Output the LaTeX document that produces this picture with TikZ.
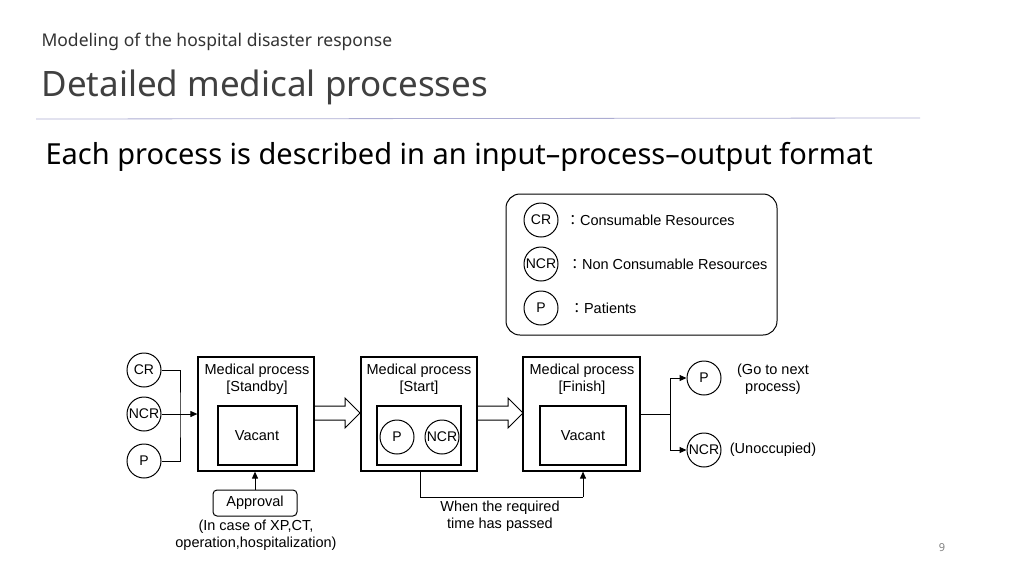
\documentclass[tikz,border=0pt]{standalone}
\usepackage{fontspec}
\setmainfont{Liberation Sans}
\newfontfamily\ttlfont{Noto Sans}
\newfontfamily\cjk{Noto Sans CJK JP}
\usetikzlibrary{arrows.meta}
\begin{document}
\begin{tikzpicture}[x=1pt,y=-1pt,
  circ/.style={draw,line width=1pt,circle,minimum size=34pt,inner sep=0pt,font=\fontsize{14}{15}\selectfont},
  box/.style={draw,line width=1.2pt,inner sep=0pt},
  lab/.style={font=\fontsize{14.5}{17}\selectfont,align=center},
  ln/.style={draw,line width=1pt},
  arr/.style={ln,-{Triangle[length=7pt,width=6pt]}}]
\useasboundingbox (0,0) rectangle (1024,576);
\node[anchor=west,font=\ttlfont\fontsize{17.5}{20}\selectfont,text=black!80] (st) at (38,42) {Modeling of the hospital disaster response};
\node[anchor=west,font=\ttlfont\fontsize{35}{40}\selectfont,text=black!75] (tt) at (38,87) {Detailed medical processes};
\draw[draw=blue!30!gray!50,line width=0.8pt] (36,119) -- (920,118);
\node[anchor=west,font=\ttlfont\fontsize{29}{33}\selectfont] (sub) at (42,157) {Each process is described in an input–process–output format};
% legend
\draw[rounded corners=14pt,ln] (506,194) rectangle (777,335);
\node[circ] (l1) at (541,220) {CR};
\node[circ] (l2) at (541,264) {NCR};
\node[circ] (l3) at (541,308) {P};
\node[lab,anchor=west] at (562,220) {{\cjk ：}Consumable Resources};
\node[lab,anchor=west] at (564,264) {{\cjk ：}Non Consumable Resources};
\node[lab,anchor=west] at (566,308) {{\cjk ：}Patients};
% inputs
\node[circ] (cr) at (144,370) {CR};
\node[circ] (ncr) at (144,414) {NCR};
\node[circ] (p) at (144,461) {P};
% boxes
\node[box,minimum width=116pt,minimum height=114pt] (b1) at (256,414) {};
\node[box,minimum width=79pt,minimum height=59pt] (i1) at (257.5,435.5) {};
\node[lab] at (257,379) {Medical process\\{}[Standby]};
\node[lab] at (257,436) {Vacant};
\node[box,minimum width=116pt,minimum height=114pt] (b2) at (419,414) {};
\node[box,minimum width=84pt,minimum height=59pt] (i2) at (419,435.5) {};
\node[lab] at (419,379) {Medical process\\{}[Start]};
\node[circ] (p2) at (397,437) {P};
\node[circ] (n2) at (442,437) {NCR};
\node[box,minimum width=117pt,minimum height=114pt] (b3) at (581.5,414) {};
\node[box,minimum width=86pt,minimum height=59pt] (i3) at (583,435.5) {};
\node[lab] at (582,379) {Medical process\\{}[Finish]};
\node[lab] at (583,436) {Vacant};
% hollow arrows
\draw[ln] (314,406) -- (345,406) -- (345,398) -- (360,413) -- (345,428) -- (345,420) -- (314,420);
\draw[ln] (477,406) -- (508,406) -- (508,398) -- (523,413) -- (508,428) -- (508,420) -- (477,420);
% input connectors
\coordinate (j) at (180,414);
\draw[ln] (cr.east) -| (j) |- (p.east);
\draw[arr] (ncr.east) -- (b1.west);
% outputs
\node[circ] (po) at (704,378) {P};
\node[circ] (no) at (704,450) {NCR};
\coordinate (k) at (670,414);
\draw[ln] (b3.east) -- (k);
\draw[arr] (k) |- (po.west);
\draw[arr] (k) |- (no.west);
\node[lab] at (773,379) {(Go to next\\process)};
\node[lab] at (773,450) {(Unoccupied)};
% approval
\node[draw,rounded corners=4pt,line width=1pt,minimum width=84pt,minimum height=26pt,lab] (ap) at (255,503) {Approval};
\draw[arr] (ap.north) -- (ap.north |- b1.south);
\node[lab] at (256,535) {(In case of XP,CT,\\operation,hospitalization)};
% timer
\coordinate (t1) at (420,497);
\coordinate (t2) at (583,497);
\draw[ln] (t1 |- b2.south) -- (t1) -- (t2);
\draw[arr] (t2) -- (t2 |- b3.south);
\node[lab] at (500,516) {When the required\\time has passed};
\node[font=\ttlfont\fontsize{11}{12}\selectfont,text=gray] at (942,548) {9};
\end{tikzpicture}
\end{document}
